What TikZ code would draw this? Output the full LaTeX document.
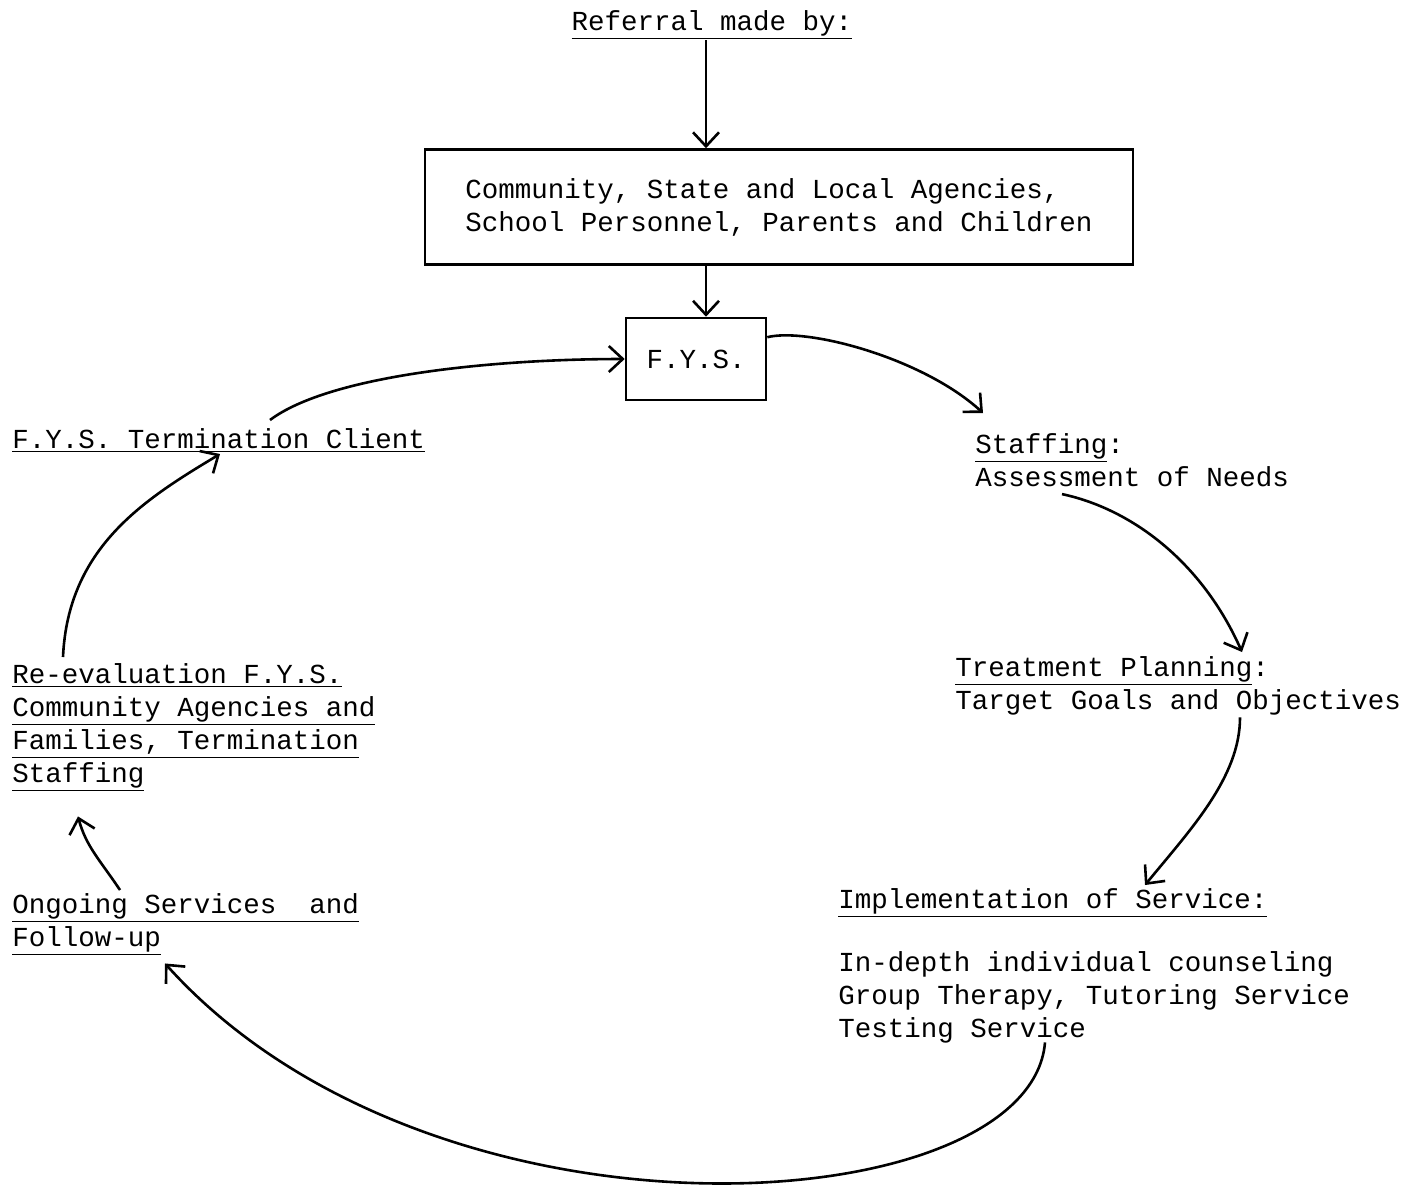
\documentclass[tikz,border=0pt]{standalone}
\usepackage{fontspec}
\setmonofont{Liberation Mono}
\usetikzlibrary{calc,arrows.meta}
\tikzstyle{entry} = [font=\ttfamily\fontsize{13.75}{16.5}\selectfont, align=left, inner sep=0pt, anchor=north west]
\tikzstyle{box} = [rectangle, draw, line width=1.3pt, font=\ttfamily\fontsize{13.75}{16.5}\selectfont, align=left]
\tikzstyle{connector} = [line width=1.3pt, -{Straight Barb[length=7pt,width=13pt]}]

\begin{document}
\begin{tikzpicture}[x=0.5pt, y=-0.5pt]
        \useasboundingbox (0,0) rectangle (1416,1201);
        \coordinate (axis) at (706,0);
        \node (referral) [entry, anchor=base] at (712,30) {\underline{Referral made by:}};
        \node (agencies) [box, minimum width=354pt, minimum height=57.5pt] at (779,207) {Community, State and Local Agencies,\\School Personnel, Parents and Children};
        \node (fys) [box, minimum width=70pt, minimum height=41pt] at (696,359) {F.Y.S.};
        \node (staffing) [entry] at (975,433) {\underline{Staffing}:\\Assessment of Needs};
        \node (planning) [entry] at (955,656) {\underline{Treatment Planning}:\\Target Goals and Objectives};
        \node (implement) [entry] at (838,888) {\underline{Implementation of Service:}\\[15pt]In-depth individual counseling\\Group Therapy, Tutoring Service\\Testing Service};
        \node (ongoing) [entry] at (12,893) {\underline{Ongoing Services~~and}\\\underline{Follow-up}};
        \node (reeval) [entry] at (12,663) {\underline{Re-evaluation F.Y.S.}\\\underline{Community Agencies and}\\\underline{Families, Termination}\\\underline{Staffing}};
        \node (termination) [entry] at (12,428) {\underline{F.Y.S. Termination Client}};
        \draw [connector] (referral.south -| axis) -- (agencies.north -| axis);
        \draw [connector] (agencies.south -| axis) -- (fys.north -| axis);
        \draw [connector] (fys.17) .. controls +(40,-10) and +(-60,-55) .. ($(staffing.north west)+(8,-20)$);
        \draw [connector] ($(staffing.south west)+(87,7)$) .. controls +(70,15) and +(-40,-90) .. ($(planning.north west)+(287,-4)$);
        \draw [connector] ($(planning.south west)+(285,2)$) .. controls +(0,60) and +(45,-55) .. ($(implement.north west)+(307,-3)$);
        \draw [connector] ($(implement.south west)+(207,-1)$) .. controls +(-15,180) and +(270,300) .. ($(ongoing.south west)+(153,7)$);
        \draw [connector] ($(ongoing.north west)+(108,-3)$) .. controls +(-20,-30) and +(8,30) .. ($(reeval.south west)+(66,24)$);
        \draw [connector] ($(reeval.north west)+(51,-6)$) .. controls +(5,-110) and +(-75,45) .. ($(termination.south west)+(208,1)$);
        \draw [connector] ($(termination.north west)+(258,-8)$) .. controls +(60,-45) and +(-130,0) .. (fys.west);
    \end{tikzpicture}
\end{document}
